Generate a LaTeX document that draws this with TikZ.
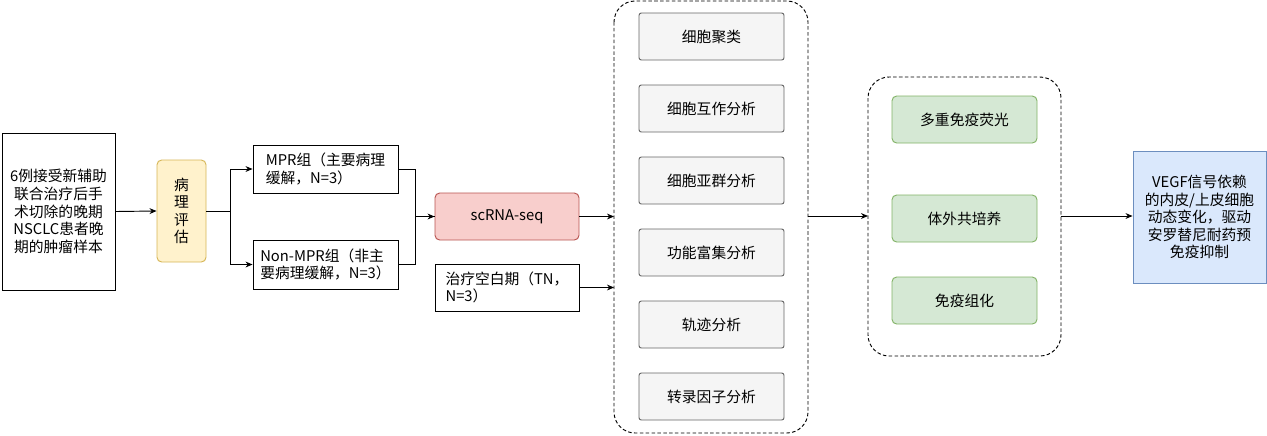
\documentclass[tikz,border=0pt]{standalone}
\usepackage{fontspec}
\usetikzlibrary{arrows.meta}
\setmainfont{Noto Sans CJK SC}
\definecolor{yf}{HTML}{FFF2CC}\definecolor{yd}{HTML}{D6B656}
\definecolor{rf}{HTML}{F8CECC}\definecolor{rd}{HTML}{B85450}
\definecolor{gf}{HTML}{D5E8D4}\definecolor{gd}{HTML}{82B366}
\definecolor{bf}{HTML}{DAE8FC}\definecolor{bd}{HTML}{6C8EBF}
\definecolor{sf}{HTML}{F5F5F5}\definecolor{sd}{HTML}{666666}
\begin{document}
\begin{tikzpicture}[x=0.03cm,y=-0.03cm,
 every node/.style={font=\fontsize{12.6}{15}\selectfont,align=center,inner sep=1pt},
 bx/.style={draw,line width=0.8pt},
 gray/.style={bx,draw=sd,fill=sf,rounded corners=2pt,minimum width=145*0.03cm,minimum height=47*0.03cm},
 green/.style={bx,draw=gd,fill=gf,rounded corners=4pt,minimum width=145*0.03cm,minimum height=47*0.03cm},
 arr/.style={-{Stealth[length=6pt,width=5pt]},line width=0.8pt},
 cont/.style={draw,dash pattern=on 3pt off 2pt,line width=0.8pt,rounded corners=18pt}]
\useasboundingbox (0,0) rectangle (1267,435);
\node[bx,minimum width=113*0.03cm,minimum height=157*0.03cm] (src) at (58.5,211.5) {6例接受新辅助\\联合治疗后手\\术切除的晚期\\NSCLC患者晚\\期的肿瘤样本};
\node[bx,draw=yd,fill=yf,rounded corners=4pt,minimum width=49*0.03cm,minimum height=102*0.03cm] (path) at (181.5,211) {病\\理\\评\\估};
\node[bx,minimum width=145*0.03cm,minimum height=48*0.03cm,align=left] (mpr) at (325.5,169) {MPR组（主要病理\\缓解，N=3）};
\node[bx,minimum width=145*0.03cm,minimum height=49*0.03cm,align=left] (non) at (325.5,264.5) {Non-MPR组（非主\\要病理缓解，N=3）};
\node[bx,draw=rd,fill=rf,rounded corners=4pt,minimum width=144*0.03cm,minimum height=47*0.03cm] (sc) at (507,216.5) {scRNA-seq};
\node[bx,minimum width=144*0.03cm,minimum height=47*0.03cm,align=left] (tn) at (507,287.5) {治疗空白期（TN，\\N=3）};
\draw[cont] (614,1) rectangle (808,433);
\coordinate (c1a) at (614,216); \coordinate (c1b) at (614,288);
\coordinate (c1r) at (808,216);
\foreach \y/\t/\n in {36.5/细胞聚类/g1,108.5/细胞互作分析/g2,180.5/细胞亚群分析/g3,252.5/功能富集分析/g4,324.5/轨迹分析/g5,396.5/转录因子分析/g6}
 \node[gray] (\n) at (711.5,\y) {\t};
\draw[cont] (868,77) rectangle (1061,356);
\coordinate (c2l) at (868,216); \coordinate (c2r) at (1061,216);
\node[green] (h1) at (964.5,119.5) {多重免疫荧光};
\node[green] (h2) at (964.5,218.5) {体外共培养};
\node[green] (h3) at (964.5,300.5) {免疫组化};
\node[bx,draw=bd,fill=bf,minimum width=133*0.03cm,minimum height=132*0.03cm] (res) at (1199.5,217) {VEGF信号依赖\\的内皮/上皮细胞\\动态变化，驱动\\安罗替尼耐药预\\免疫抑制};
\draw[arr] (src.east) -- (path.west);
\draw[arr] (path.east) -- ++(24,0) |- (mpr.west);
\draw[arr] (path.east) -- ++(24,0) |- (non.west);
\draw[line width=0.8pt] (mpr.east) -- ++(17,0) |- (sc.west);
\draw[arr] (non.east) -- ++(17,0) |- (sc.west);
\draw[arr] (sc.east) -- (c1a|-sc.east);
\draw[arr] (tn.east) -- (c1b|-tn.east);
\draw[arr] (c1r) -- (c2l);
\draw[arr] (c2r) -- (c2r-|res.west);
\end{tikzpicture}
\end{document}
